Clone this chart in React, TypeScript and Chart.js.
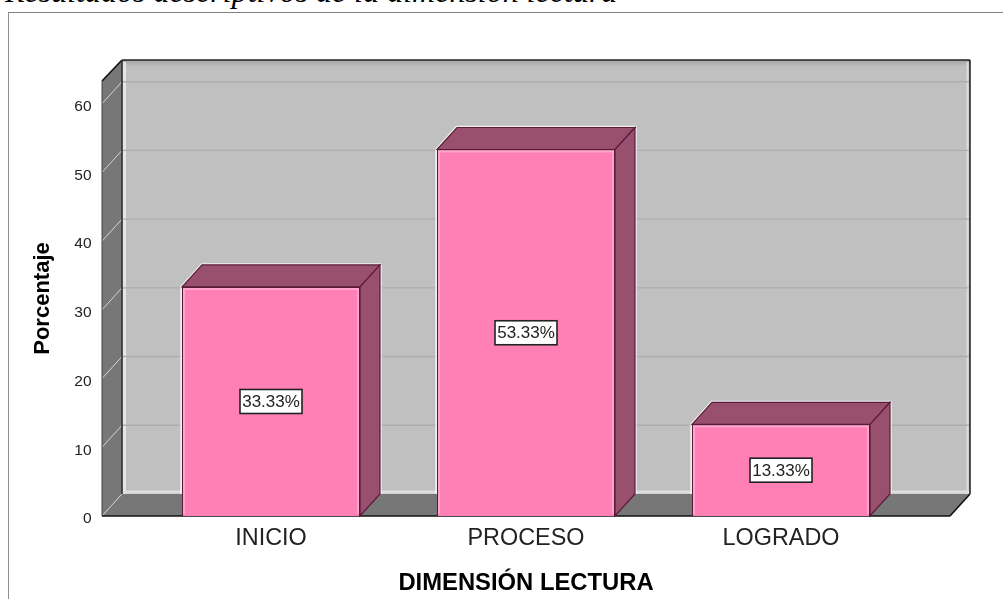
import React, { useEffect, useRef } from "react";
import { Chart, registerables } from "chart.js";

Chart.register(...registerables);

const captionText = "Resultados descriptivos de la dimensión lectura";
const categories = ["INICIO", "PROCESO", "LOGRADO"];
const percentages = [33.33, 53.33, 13.33];
const tickStep = 10;
const axisMax = 63.3;
const yTitle = "Porcentaje";
const xTitle = "DIMENSIÓN LECTURA";

const DX = 20;
const DY = 22;
const SIDE = 41.5;
const FONT = "'Liberation Sans', Arial, sans-serif";

function poly(ctx: CanvasRenderingContext2D, pts: number[][], fill?: string, stroke?: string, lw = 1) {
  ctx.beginPath();
  pts.forEach((p, i) => (i ? ctx.lineTo(p[0], p[1]) : ctx.moveTo(p[0], p[1])));
  ctx.closePath();
  if (fill) {
    ctx.fillStyle = fill;
    ctx.fill();
  }
  if (stroke) {
    ctx.strokeStyle = stroke;
    ctx.lineWidth = lw;
    ctx.stroke();
  }
}

function line(ctx: CanvasRenderingContext2D, x1: number, y1: number, x2: number, y2: number, color: string, lw = 1) {
  ctx.beginPath();
  ctx.moveTo(x1, y1);
  ctx.lineTo(x2, y2);
  ctx.strokeStyle = color;
  ctx.lineWidth = lw;
  ctx.stroke();
}

const box3d = {
  id: "box3d",
  beforeDatasetsDraw(chart: any) {
    const { ctx, chartArea, scales } = chart;
    const y = scales.y;
    const fl = chartArea.left - SIDE;
    const fr = chartArea.right + SIDE;
    const top = chartArea.top;
    const bot = chartArea.bottom;
    const bl = fl + DX;
    const br = fr + DX;
    const bt = top - DY + 1;
    const bb = bot - DY;
    ctx.save();

    // back wall
    poly(ctx, [[bl, bt], [br, bt], [br, bb], [bl, bb]], "#c0c0c0");
    const g = ctx.createLinearGradient(0, bt, 0, bt + 7);
    g.addColorStop(0, "#a4a4a4");
    g.addColorStop(1, "#c0c0c0");
    ctx.fillStyle = g;
    ctx.fillRect(bl, bt, br - bl, 7);
    line(ctx, bl + 2.5, bt + 2, bl + 2.5, bb, "#e6e6e6", 3);
    line(ctx, br - 2.5, bt + 2, br - 2.5, bb, "#dcdcdc", 2);
    line(ctx, bl, bb - 2, br, bb - 2, "#dedede", 3);

    // grid lines on the back wall and the left wall
    for (let v = tickStep; v <= 60; v += tickStep) {
      const py = y.getPixelForValue(v);
      line(ctx, bl, py - DY, br, py - DY, "#aeaeae", 1.4);
    }

    // left wall and floor
    poly(ctx, [[fl, top], [bl, bt], [bl, bb], [fl, bot]], "#777777");
    poly(ctx, [[fl, bot], [bl, bb], [br, bb], [fr, bot]], "#777777");
    for (let v = 0; v <= 60; v += tickStep) {
      const py = y.getPixelForValue(v);
      line(ctx, fl, py, bl, py - DY, "#d4d4d4", 1);
    }

    // frame edges
    line(ctx, bl, bt, br, bt, "#222222", 1.4);
    line(ctx, fl, top, bl, bt, "#111111", 1.6);
    line(ctx, bl, bt, bl, bb, "#333333", 1.6);
    line(ctx, fl, top, fl, bot, "#444444", 1);
    line(ctx, br, bt, br, bb, "#111111", 1.4);
    line(ctx, br, bb, fr, bot, "#111111", 1.6);
    line(ctx, fl, bot, fr, bot, "#111111", 1.6);

    // bar depth faces
    chart.getDatasetMeta(0).data.forEach((bar: any) => {
      const half = bar.width / 2;
      const l = bar.x - half;
      const r = bar.x + half;
      const t = bar.y;
      const b = bar.base;
      ctx.beginPath();
      ctx.moveTo(l, Math.min(b, bb));
      ctx.lineTo(l, t);
      ctx.lineTo(l + DX, t - DY);
      ctx.lineTo(r + DX, t - DY);
      ctx.lineTo(r + DX, b - DY);
      ctx.strokeStyle = "rgba(255,255,255,0.75)";
      ctx.lineWidth = 3.5;
      ctx.stroke();
      poly(ctx, [[l, t], [l + DX, t - DY], [r + DX, t - DY], [r, t]], "#99506e", "#5a1a3a", 1.2);
      poly(ctx, [[r, t], [r + DX, t - DY], [r + DX, b - DY], [r, b]], "#99506e", "#5a1a3a", 1.2);
    });
    ctx.restore();
  },
  afterDatasetsDraw(chart: any) {
    const { ctx } = chart;
    ctx.save();
    chart.getDatasetMeta(0).data.forEach((bar: any, i: number) => {
      const half = bar.width / 2;
      const l = bar.x - half + 2;
      const r = bar.x + half - 2;
      const t = bar.y + 2;
      const b = bar.base - 2;
      ctx.beginPath();
      ctx.moveTo(l, b);
      ctx.lineTo(l, t);
      ctx.lineTo(r, t);
      ctx.lineTo(r, b);
      ctx.strokeStyle = "#ffa4cc";
      ctx.lineWidth = 2;
      ctx.stroke();

      const label = percentages[i].toFixed(2) + "%";
      const cy = (bar.y + bar.base) / 2;
      const w = 62;
      const h = 24;
      ctx.fillStyle = "#ffffff";
      ctx.fillRect(bar.x - w / 2, cy - h / 2, w, h);
      ctx.strokeStyle = "#222222";
      ctx.lineWidth = 1.6;
      ctx.strokeRect(bar.x - w / 2, cy - h / 2, w, h);
      ctx.fillStyle = "#222222";
      ctx.font = `17px ${FONT}`;
      ctx.textAlign = "center";
      ctx.textBaseline = "middle";
      ctx.fillText(label, bar.x, cy + 1);
    });
    ctx.restore();
  },
};

export default function App() {
  const ref = useRef<HTMLCanvasElement>(null);
  useEffect(() => {
    const chart = new Chart(ref.current!, {
      type: "bar",
      data: {
        labels: categories,
        datasets: [
          {
            data: percentages,
            backgroundColor: "#ff80b4",
            borderColor: "#5a1a3a",
            borderWidth: 1,
            categoryPercentage: 1,
            barPercentage: 0.698,
          },
        ],
      },
      options: {
        responsive: false,
        animation: false,
        layout: { padding: { top: 81, right: 94.5, left: 0, bottom: 0 } },
        plugins: { legend: { display: false }, tooltip: { enabled: false } },
        scales: {
          x: {
            grid: { display: false },
            border: { display: false },
            ticks: { color: "#222222", padding: 1, maxRotation: 0, font: { family: FONT, size: 23.4 } },
            title: {
              display: true,
              text: xTitle,
              color: "#000000",
              padding: { top: 0, bottom: 1 },
              font: { family: FONT, size: 23.8, weight: "bold" },
            },
            afterFit(scale: any) {
              scale.height = 83;
            },
          },
          y: {
            min: 0,
            max: axisMax,
            grid: { display: false },
            border: { display: false },
            afterBuildTicks(scale: any) {
              scale.ticks = scale.ticks.filter((t: any) => t.value % tickStep === 0);
            },
            ticks: { stepSize: tickStep, color: "#222222", padding: 44, labelOffset: 3, font: { family: FONT, size: 15.5 } },
            title: {
              display: true,
              text: yTitle,
              color: "#000000",
              padding: { top: 30, bottom: 30 },
              font: { family: FONT, size: 22, weight: "bold" },
            },
            afterFit(scale: any) {
              scale.width = 143.5;
            },
          },
        },
      },
      plugins: [box3d],
    } as any);
    return () => chart.destroy();
  }, []);

  return (
    <div style={{ position: "absolute", left: 0, top: 0, width: 1003, height: 599, overflow: "hidden", background: "#ffffff" }}>
      <div
        style={{
          position: "absolute",
          left: 5,
          top: -27,
          fontFamily: "'Liberation Serif', serif",
          fontStyle: "italic",
          fontSize: 32,
          lineHeight: "36px",
          whiteSpace: "nowrap",
          color: "#000000",
        }}
      >
        {captionText}
      </div>
      <div style={{ position: "absolute", left: 8, top: 12, width: 995, height: 587, borderLeft: "1px solid #909090", borderTop: "1px solid #808080" }} />
      <canvas ref={ref} width={1003} height={599} style={{ position: "absolute", left: 0, top: 0, display: "block", filter: "blur(0.4px)" }} />
    </div>
  );
}
